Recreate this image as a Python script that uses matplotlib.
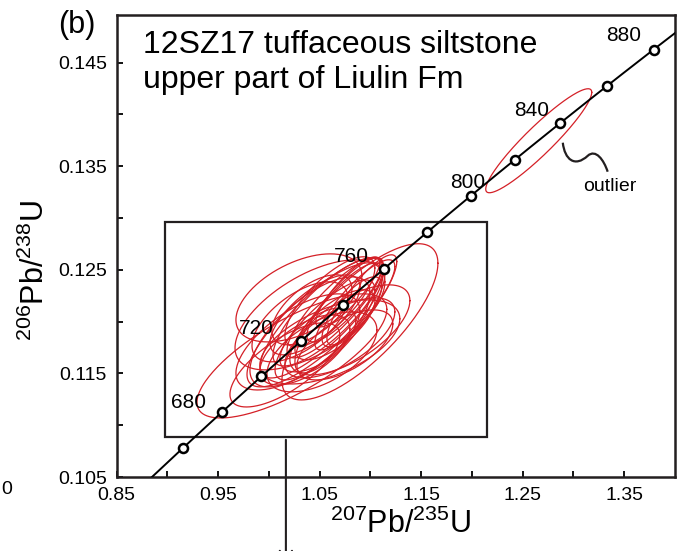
import numpy as np
import matplotlib
matplotlib.use("Agg")
import matplotlib.pyplot as plt
from matplotlib.path import Path
from matplotlib.patches import PathPatch, Rectangle

plt.rcParams['font.family'] = ['Liberation Sans', 'DejaVu Sans']
plt.rcParams['mathtext.default'] = 'regular'

# decay constants (1/yr)
L238 = 1.55125e-10
L235 = 9.8485e-10

# concordia age marks (Ma)
marker_ages = [660, 680, 700, 720, 740, 760, 780, 800, 820, 840, 860, 880]
label_ages = [680, 720, 760, 800, 840, 880]

# zircon analyses: 207Pb/235U, err, 206Pb/238U, err, rho
x207 = [1.0227, 1.0897, 1.0582, 1.0523, 1.0651, 1.0454, 1.0700, 1.0405, 1.0749, 1.0286,
        1.0296, 1.0405, 1.0798, 1.0601, 1.0847, 1.0454, 1.0651, 1.0778, 1.0306, 1.0523,
        1.0158, 1.0700, 1.0424, 1.0818, 1.0355, 1.0601, 1.0916, 1.0553, 1.0749, 1.0483]
x_err = [0.0935, 0.0768, 0.0541, 0.0610, 0.0472, 0.0669, 0.0443, 0.0591, 0.0374, 0.0610,
         0.0620, 0.0738, 0.0591, 0.0689, 0.0394, 0.0443, 0.0394, 0.0315, 0.0472, 0.0541,
         0.0541, 0.0541, 0.0394, 0.0295, 0.0443, 0.0443, 0.0344, 0.0492, 0.0472, 0.0374]
y206 = [0.11669, 0.11998, 0.12094, 0.12036, 0.12133, 0.11969, 0.12036, 0.11901, 0.12210, 0.11804,
        0.12229, 0.12065, 0.11920, 0.11804, 0.12162, 0.12065, 0.11969, 0.12287, 0.11998, 0.11708,
        0.11582, 0.11843, 0.12114, 0.12094, 0.11727, 0.12191, 0.12210, 0.11920, 0.11775, 0.11824]
y_err = [0.00599, 0.00754, 0.00522, 0.00580, 0.00483, 0.00599, 0.00531, 0.00531, 0.00406, 0.00464,
         0.00425, 0.00531, 0.00435, 0.00406, 0.00435, 0.00386, 0.00338, 0.00338, 0.00386, 0.00386,
         0.00406, 0.00386, 0.00338, 0.00338, 0.00338, 0.00435, 0.00435, 0.00483, 0.00338, 0.00309]
rho = [0.75, 0.75, 0.80, 0.82, 0.85, 0.80, 0.80, 0.70, 0.85, 0.65,
       0.50, 0.60, 0.65, 0.55, 0.85, 0.70, 0.70, 0.85, 0.60, 0.55,
       0.70, 0.65, 0.60, 0.75, 0.60, 0.75, 0.85, 0.80, 0.60, 0.60]

# the outlier
out_x, out_xerr, out_y, out_yerr, out_rho = 1.2658, 0.0522, 0.13746, 0.00502, 0.93

red = '#d42027'
dark = '#231f20'


def ellipse_xy(x, sx, y, sy, r):
    t = np.linspace(0, 2 * np.pi, 240)
    ex = x + sx * np.cos(t)
    ey = y + sy * (r * np.cos(t) + np.sqrt(1 - r ** 2) * np.sin(t))
    return ex, ey


fig = plt.figure(figsize=(6.83, 5.51), dpi=100)
ax = fig.add_axes([0.1706, 0.1343, 0.8177, 0.8385])

# ellipses
for i in range(len(x207)):
    ex, ey = ellipse_xy(x207[i], x_err[i], y206[i], y_err[i], rho[i])
    ax.plot(ex, ey, color=red, lw=0.9, zorder=2)
ex, ey = ellipse_xy(out_x, out_xerr, out_y, out_yerr, out_rho)
ax.plot(ex, ey, color=red, lw=0.9, zorder=2)

# concordia
tt = np.linspace(600e6, 920e6, 400)
ax.plot(np.exp(L235 * tt) - 1, np.exp(L238 * tt) - 1, color='black', lw=1.4, zorder=3)
ta = np.array(marker_ages) * 1e6
ax.plot(np.exp(L235 * ta) - 1, np.exp(L238 * ta) - 1, 'o', ms=6.5, mfc='white',
        mec='black', mew=1.8, zorder=4)

# age labels
offsets = {680: (-33, 10), 720: (-45, 12), 760: (-33, 12), 800: (-3, 13),
           840: (-29, 12), 880: (-30, 14)}
for a in label_ages:
    xa = np.exp(L235 * a * 1e6) - 1
    ya = np.exp(L238 * a * 1e6) - 1
    ax.annotate(str(a), (xa, ya), xytext=offsets[a], textcoords='offset pixels',
                ha='center', va='center', fontsize=15, zorder=5)

# box around the main cluster + pointer line
ax.add_patch(Rectangle((0.8977, 0.10886), 1.2147 - 0.8977, 0.12964 - 0.10886,
                       fill=False, ec=dark, lw=1.6, zorder=1))
ax.annotate('', xy=(1.0168, 0.0962), xytext=(1.0168, 0.10886),
            arrowprops=dict(arrowstyle='->', color=dark, lw=1.5, mutation_scale=22),
            annotation_clip=False)

# outlier squiggle
verts = [(1.2895, 0.13727), (1.2914, 0.13563), (1.3013, 0.13486), (1.3141, 0.13601),
         (1.3219, 0.13669), (1.3298, 0.13563), (1.3337, 0.13447)]
codes = [Path.MOVETO, Path.CURVE4, Path.CURVE4, Path.CURVE4, Path.CURVE4, Path.CURVE4, Path.CURVE4]
ax.add_patch(PathPatch(Path(verts, codes), fill=False, ec=dark, lw=1.6, zorder=3))
ax.text(1.3357, 0.13302, 'outlier', ha='center', va='center', fontsize=14)

ax.set_xlim(0.85, 1.40)
ax.set_ylim(0.105, 0.1496)
ax.set_xticks([0.85, 0.95, 1.05, 1.15, 1.25, 1.35])
ax.set_xticks([0.90, 1.00, 1.10, 1.20, 1.30], minor=True)
ax.set_yticks([0.105, 0.115, 0.125, 0.135, 0.145])
ax.set_yticks([0.110, 0.120, 0.130, 0.140], minor=True)
ax.set_xticklabels(['0.85', '0.95', '1.05', '1.15', '1.25', '1.35'])
ax.set_yticklabels(['0.105', '0.115', '0.125', '0.135', '0.145'])
ax.tick_params(which='both', direction='in', length=4.5, width=1.3, labelsize=14, pad=7)
for s in ax.spines.values():
    s.set_linewidth(1.8)
    s.set_color(dark)

ax.set_xlabel('$^{207}$Pb/$^{235}$U', fontsize=22)
ax.set_ylabel('$^{206}$Pb/$^{238}$U', fontsize=22)
ax.xaxis.set_label_coords(0.5076, -0.068)
ax.yaxis.set_label_coords(-0.118, 0.448)

ax.text(0.0474, 0.935, '12SZ17 tuffaceous siltstone', transform=ax.transAxes,
        ha='left', va='center', fontsize=23)
ax.text(0.0474, 0.859, 'upper part of Liulin Fm', transform=ax.transAxes,
        ha='left', va='center', fontsize=23)
fig.text(0.1127, 0.9546, '(b)', ha='center', va='center', fontsize=22)
fig.text(0.018, 0.111, '0', ha='right', va='center', fontsize=14)

fig.savefig('out.png', dpi=100)
